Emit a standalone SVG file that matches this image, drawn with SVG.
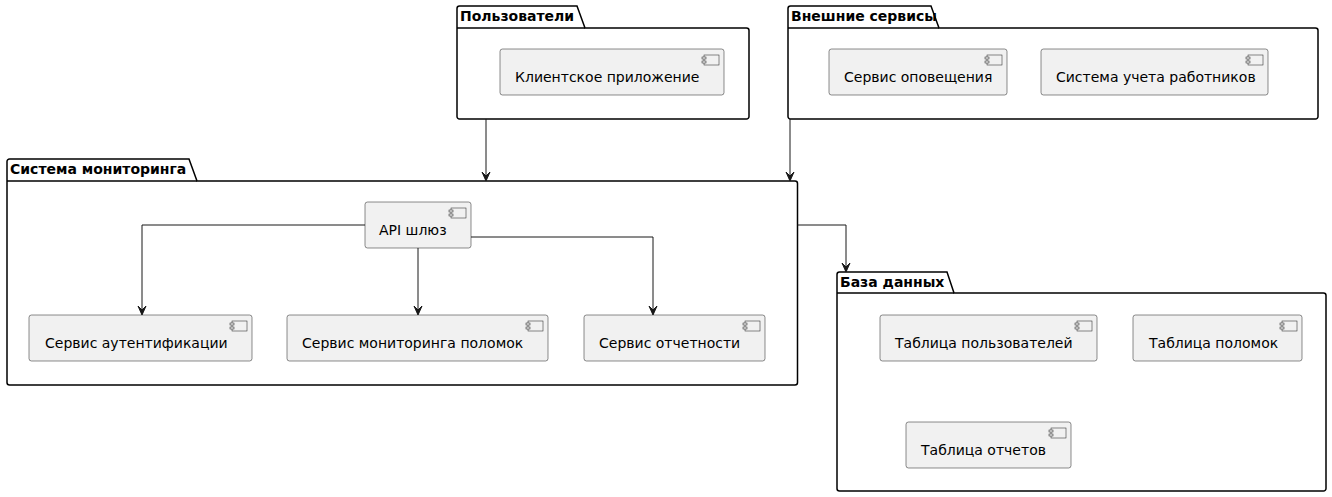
<svg xmlns="http://www.w3.org/2000/svg" width="1332" height="497" viewBox="0 0 1332 497">
<style>
  .pkg { fill: none; stroke: #000000; stroke-width: 1.5; }
  .pkg-title { font-family: "DejaVu Sans", sans-serif; font-size: 14px; font-weight: bold; fill: #000000; }
  .comp { fill: #F1F1F1; stroke: #181818; stroke-width: 0.5; }
  .icon { fill: #F1F1F1; stroke: #181818; stroke-width: 0.5; }
  .label { font-family: "DejaVu Sans", sans-serif; font-size: 14px; fill: #000000; }
  .edge { fill: none; stroke: #181818; stroke-width: 1; }
  .head { fill: #181818; stroke: #181818; stroke-width: 1; }
</style>
<defs>
  <symbol id="comp-icon" overflow="visible">
    <rect class="icon" x="2" y="0" width="15" height="10"/>
    <rect class="icon" x="0" y="2" width="4" height="2"/>
    <rect class="icon" x="0" y="6" width="4" height="2"/>
  </symbol>
</defs>
<rect width="1332" height="497" fill="#FFFFFF"/>

<!-- Пользователи -->
<g id="pkg-users">
  <path class="pkg" d="M457,8.5 A2.5,2.5 0 0 1 459.5,6 L577,6 L585,28 L746.5,28 A2.5,2.5 0 0 1 749,30.5 L749,116.5 A2.5,2.5 0 0 1 746.5,119 L459.5,119 A2.5,2.5 0 0 1 457,116.5 Z"/>
  <line class="pkg" x1="457" y1="28" x2="585" y2="28"/>
  <text class="pkg-title" x="460" y="21">Пользователи</text>
</g>
<g id="client-app">
  <rect class="comp" x="500" y="49" width="224" height="46" rx="2.5"/>
  <use href="#comp-icon" x="702" y="55"/>
  <text class="label" x="515" y="82">Клиентское приложение</text>
</g>

<!-- Внешние сервисы -->
<g id="pkg-external">
  <path class="pkg" d="M788,8.5 A2.5,2.5 0 0 1 790.5,6 L931,6 L939,28 L1315.5,28 A2.5,2.5 0 0 1 1318,30.5 L1318,116.5 A2.5,2.5 0 0 1 1315.5,119 L790.5,119 A2.5,2.5 0 0 1 788,116.5 Z"/>
  <line class="pkg" x1="788" y1="28" x2="939" y2="28"/>
  <text class="pkg-title" x="791" y="21">Внешние сервисы</text>
</g>
<g id="notify-service">
  <rect class="comp" x="829" y="49" width="178" height="46" rx="2.5"/>
  <use href="#comp-icon" x="985" y="55"/>
  <text class="label" x="844" y="82">Сервис оповещения</text>
</g>
<g id="hr-system">
  <rect class="comp" x="1041" y="49" width="227" height="46" rx="2.5"/>
  <use href="#comp-icon" x="1246" y="55"/>
  <text class="label" x="1056" y="82">Система учета работников</text>
</g>

<!-- Система мониторинга -->
<g id="pkg-monitoring">
  <path class="pkg" d="M7,161.5 A2.5,2.5 0 0 1 9.5,159 L189,159 L197,181 L795,181 A2.5,2.5 0 0 1 797.5,183.5 L797.5,382.5 A2.5,2.5 0 0 1 795,385 L9.5,385 A2.5,2.5 0 0 1 7,382.5 Z"/>
  <line class="pkg" x1="7" y1="181" x2="197" y2="181"/>
  <text class="pkg-title" x="10" y="174">Система мониторинга</text>
</g>
<g id="api-gateway">
  <rect class="comp" x="365" y="202" width="106" height="46" rx="2.5"/>
  <use href="#comp-icon" x="449" y="208"/>
  <text class="label" x="379" y="235">API шлюз</text>
</g>
<g id="auth-service">
  <rect class="comp" x="29" y="315" width="223" height="46" rx="2.5"/>
  <use href="#comp-icon" x="230" y="321"/>
  <text class="label" x="45" y="348">Сервис аутентификации</text>
</g>
<g id="failure-monitoring">
  <rect class="comp" x="287" y="315" width="261" height="46" rx="2.5"/>
  <use href="#comp-icon" x="526" y="321"/>
  <text class="label" x="302" y="348">Сервис мониторинга поломок</text>
</g>
<g id="reporting-service">
  <rect class="comp" x="584" y="315" width="181" height="46" rx="2.5"/>
  <use href="#comp-icon" x="743" y="321"/>
  <text class="label" x="599" y="348">Сервис отчетности</text>
</g>

<!-- База данных -->
<g id="pkg-database">
  <path class="pkg" d="M837,274.5 A2.5,2.5 0 0 1 839.5,272 L947,272 L954,293 L1323.5,293 A2.5,2.5 0 0 1 1326,295.5 L1326,488.5 A2.5,2.5 0 0 1 1323.5,491 L839.5,491 A2.5,2.5 0 0 1 837,488.5 Z"/>
  <line class="pkg" x1="837" y1="293" x2="954" y2="293"/>
  <text class="pkg-title" x="840" y="287">База данных</text>
</g>
<g id="users-table">
  <rect class="comp" x="880" y="315" width="217" height="46" rx="2.5"/>
  <use href="#comp-icon" x="1075" y="321"/>
  <text class="label" x="895" y="348">Таблица пользователей</text>
</g>
<g id="failures-table">
  <rect class="comp" x="1133" y="315" width="169" height="46" rx="2.5"/>
  <use href="#comp-icon" x="1280" y="321"/>
  <text class="label" x="1149" y="348">Таблица поломок</text>
</g>
<g id="reports-table">
  <rect class="comp" x="906" y="422" width="165" height="46" rx="2.5"/>
  <use href="#comp-icon" x="1049" y="428"/>
  <text class="label" x="921" y="455">Таблица отчетов</text>
</g>

<!-- Connectors -->
<g id="connectors">
  <path class="edge" d="M486,119 L486,180"/>
  <polygon class="head" points="486,181 482,172 486,176 490,172"/>
  <path class="edge" d="M790,119 L790,180"/>
  <polygon class="head" points="790,181 786,172 790,176 794,172"/>
  <path class="edge" d="M797.5,225 L846,225 L846,271"/>
  <polygon class="head" points="846,272 842,263 846,267 850,263"/>
  <path class="edge" d="M365,225 L142,225 L142,314"/>
  <polygon class="head" points="142,315 138,306 142,310 146,306"/>
  <path class="edge" d="M418,248 L418,314"/>
  <polygon class="head" points="418,315 414,306 418,310 422,306"/>
  <path class="edge" d="M471,237 L653,237 L653,314"/>
  <polygon class="head" points="653,315 649,306 653,310 657,306"/>
</g>
</svg>
